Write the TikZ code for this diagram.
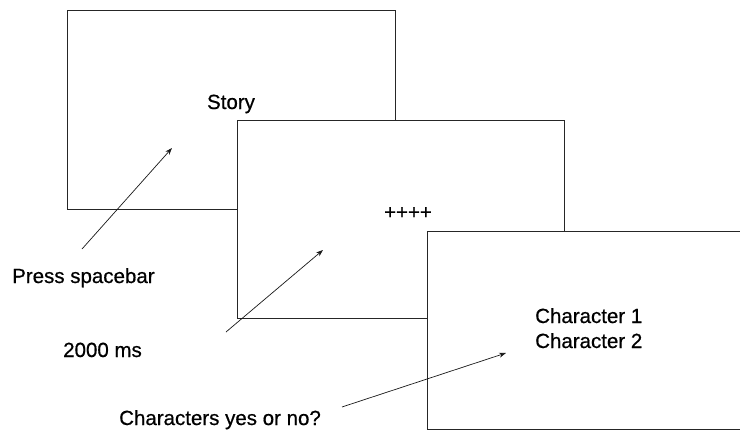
\documentclass[tikz,border=0pt]{standalone}
\usepackage{fontspec}
\setmainfont{Liberation Sans}
\newfontfamily\lblfont[FakeBold=0.6]{Liberation Sans}
\usetikzlibrary{arrows.meta}
\begin{document}
\begin{tikzpicture}[x=1pt,y=-1pt,
  screen/.style={draw=black!85,line width=0.9pt,fill=white,inner sep=0pt,outer sep=0pt},
  lbl/.style={inner sep=0pt,font=\lblfont\fontsize{20.5}{24}\selectfont},
  arr/.style={draw=black!90,line width=0.7pt,-{Stealth[length=7pt,width=5pt]}}]
\useasboundingbox (0,0) rectangle (740,431);
\fill[white] (0,0) rectangle (740,431);
% screens
\node[screen,minimum width=328pt,minimum height=199pt] (s1) at (231,109.5) {};
\node[lbl,anchor=base] (story) at (231,109) {Story};
\node[screen,minimum width=327pt,minimum height=198pt] (s2) at (400.5,219) {};
\node[lbl] (fix) at (408,213) {++++};
\node[screen,minimum width=333pt,minimum height=198pt] (s3) at (593.5,330) {};
\node[lbl,anchor=base west] (c1) at (535,323) {Character 1};
\node[lbl,anchor=base west] (c2) at (535,348) {Character 2};
% labels
\node[lbl,anchor=base west] (press) at (12,283) {Press spacebar};
\node[lbl,anchor=base west] (ms) at (63,357) {2000 ms};
\node[lbl,anchor=base west] (yn) at (119,425) {Characters yes or no?};
% arrows
\coordinate (a1s) at (82,249);
\coordinate (a1e) at (172,148);
\coordinate (a2s) at (226,332);
\coordinate (a2e) at (323,250);
\coordinate (a3s) at (342,407);
\coordinate (a3e) at (506,353);
\draw[arr] (a1s) -- (a1e);
\draw[arr] (a2s) -- (a2e);
\draw[arr] (a3s) -- (a3e);
\end{tikzpicture}
\end{document}
